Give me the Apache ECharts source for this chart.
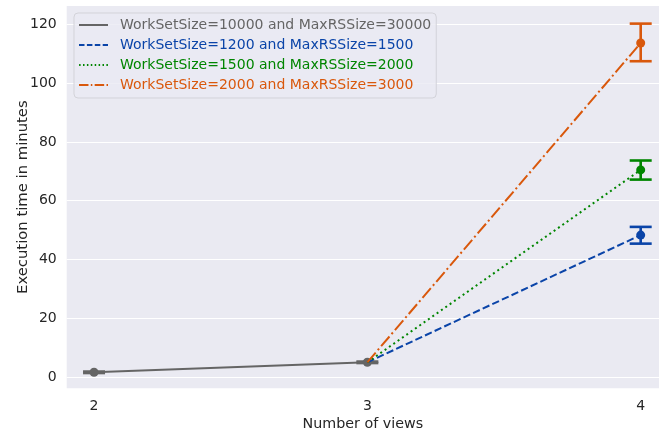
<!DOCTYPE html>
<html>
<head>
<meta charset="utf-8">
<script src="https://cdn.jsdelivr.net/npm/echarts@6/dist/echarts.min.js"></script>
<style>
  html, body { margin: 0; padding: 0; background: #ffffff; }
  #chart { width: 659px; height: 430px; }
</style>
</head>
<body>
<div id="chart"></div>
<script>
// Number of views on the x axis
const views = [2, 3, 4];
const yTicks = [0, 20, 40, 60, 80, 100, 120];

// Mean execution time (minutes) for each configuration
const seriesNames = [
  'WorkSetSize=10000 and MaxRSSize=30000',
  'WorkSetSize=1200 and MaxRSSize=1500',
  'WorkSetSize=1500 and MaxRSSize=2000',
  'WorkSetSize=2000 and MaxRSSize=3000'
];
const meansLarge = [1.6, 5.0, null];
const means1200 = [null, 5.0, 48.3];
const means1500 = [null, 5.0, 70.5];
const means2000 = [null, 5.0, 113.7];

// Error bar extents: [views, low, high]
const errLarge = [[2, 1.35, 1.85], [3, 4.75, 5.25]];
const err1200 = [[4, 45.4, 51.1]];
const err1500 = [[4, 67.2, 73.7]];
const err2000 = [[4, 107.5, 120.3]];

const colors = ['#656565', '#0a44a8', '#008500', '#d9580c'];
const dashes = ['solid', [7.4, 3.2], [2, 3.3], [12.8, 3.2, 2, 3.2]];
const legendIcons = [
  'path://M0,0H29V2H0Z',
  'path://M0,0H5.5V2H0Z M7.9,0H13.4V2H7.9Z M15.8,0H21.3V2H15.8Z M23.7,0H29V2H23.7Z',
  'path://M0,0H1.5V2H0Z M3.9,0H5.4V2H3.9Z M7.8,0H9.3V2H7.8Z M11.7,0H13.2V2H11.7Z M15.6,0H17.1V2H15.6Z M19.5,0H21V2H19.5Z M23.4,0H24.9V2H23.4Z M27.3,0H28.8V2H27.3Z',
  'path://M0,0H9.6V2H0Z M12,0H13.5V2H12Z M15.9,0H25.5V2H15.9Z M27.9,0H29.4V2H27.9Z'
];

const FONT = 'DejaVu Sans';
const TEXT = '#262626';

function pairs(vals) {
  return views.map((v, i) => vals[i] == null ? null : [v, vals[i]]).filter(Boolean);
}

function lineSeries(idx, vals, showFirstSymbol) {
  const pts = pairs(vals).map((p, i) => {
    if (!showFirstSymbol && i === 0) return { value: p, symbolSize: 0 };
    return { value: p };
  });
  return {
    name: seriesNames[idx],
    type: 'line',
    data: pts,
    z: idx === 0 ? 3 : 4,
    symbol: 'circle',
    symbolSize: 9,
    showAllSymbol: true,
    color: colors[idx],
    itemStyle: { color: colors[idx], borderWidth: 0 },
    lineStyle: { color: colors[idx], width: 2, type: dashes[idx], cap: 'butt' },
    emphasis: { disabled: true },
    animation: false
  };
}

function errorSeries(idx, rows) {
  return {
    name: seriesNames[idx] + ' (ci)',
    type: 'custom',
    data: rows,
    z: idx === 0 ? 3 : 4,
    encode: { x: 0, y: [1, 2] },
    silent: true,
    animation: false,
    renderItem: function (params, api) {
      const x = api.value(0);
      const lo = api.coord([x, api.value(1)]);
      const hi = api.coord([x, api.value(2)]);
      const half = 11;
      const style = { stroke: colors[idx], lineWidth: 2.6, fill: null };
      return {
        type: 'group',
        children: [
          { type: 'line', shape: { x1: lo[0], y1: lo[1], x2: hi[0], y2: hi[1] }, style: style },
          { type: 'line', shape: { x1: lo[0] - half, y1: lo[1], x2: lo[0] + half, y2: lo[1] }, style: style },
          { type: 'line', shape: { x1: hi[0] - half, y1: hi[1], x2: hi[0] + half, y2: hi[1] }, style: style }
        ]
      };
    }
  };
}

const chart = echarts.init(document.getElementById('chart'), null, { renderer: 'canvas' });

chart.setOption({
  animation: false,
  textStyle: { fontFamily: FONT },
  grid: {
    left: 66.7, right: 0, top: 6, bottom: 41.7,
    outerBoundsMode: 'none',
    containLabel: false,
    show: true, backgroundColor: '#eaeaf2', borderWidth: 0
  },
  xAxis: {
    type: 'value',
    min: 1.9,
    max: 4.067,
    name: 'Number of views',
    nameLocation: 'middle',
    nameGap: 29,
    nameMoveOverlap: false,
    nameTextStyle: { fontFamily: FONT, fontSize: 14.3, color: TEXT },
    axisLine: { show: false },
    axisTick: { show: false },
    splitLine: { show: false },
    axisLabel: {
      customValues: views,
      fontFamily: FONT, fontSize: 14, color: TEXT, margin: 11,
      formatter: v => String(v)
    }
  },
  yAxis: {
    type: 'value',
    min: -3.85,
    max: 126.3,
    name: 'Execution time in minutes',
    nameLocation: 'middle',
    nameGap: 36,
    nameMoveOverlap: false,
    nameTextStyle: { fontFamily: FONT, fontSize: 14.8, color: TEXT },
    axisLine: { show: false },
    axisTick: { show: false },
    splitLine: { show: false },
    axisLabel: {
      customValues: yTicks,
      fontFamily: FONT, fontSize: 14, color: TEXT, margin: 10,
      formatter: v => String(v)
    }
  },
  legend: {
    orient: 'vertical',
    left: 74,
    top: 13,
    z: 10,
    padding: [4, 5, 5, 5],
    itemGap: 4,
    itemWidth: 29,
    itemHeight: 2,
    backgroundColor: 'rgba(234,234,242,0.8)',
    borderColor: '#d3d3d9',
    borderWidth: 1,
    borderRadius: 4,
    selectedMode: false,
    itemStyle: { borderWidth: 0 },
    textStyle: { fontFamily: FONT, fontSize: 14, lineHeight: 16, padding: [0, 0, 0, 7] },
    data: seriesNames.map((n, i) => ({
      name: n,
      icon: legendIcons[i],
      itemStyle: { color: colors[i], borderWidth: 0 },
      textStyle: { color: colors[i] }
    }))
  },
  series: [
    {
      name: 'gridlines',
      type: 'line',
      data: [],
      z: 1,
      silent: true,
      markLine: {
        z: 1,
        silent: true,
        symbol: 'none',
        label: { show: false },
        lineStyle: { color: '#ffffff', width: 1.2, type: 'solid' },
        emphasis: { disabled: true },
        animation: false,
        data: yTicks.map(v => ({ yAxis: v }))
      }
    },
    lineSeries(0, meansLarge, true),
    errorSeries(0, errLarge),
    lineSeries(1, means1200, false),
    errorSeries(1, err1200),
    lineSeries(2, means1500, false),
    errorSeries(2, err1500),
    lineSeries(3, means2000, false),
    errorSeries(3, err2000)
  ]
});
</script>
</body>
</html>
